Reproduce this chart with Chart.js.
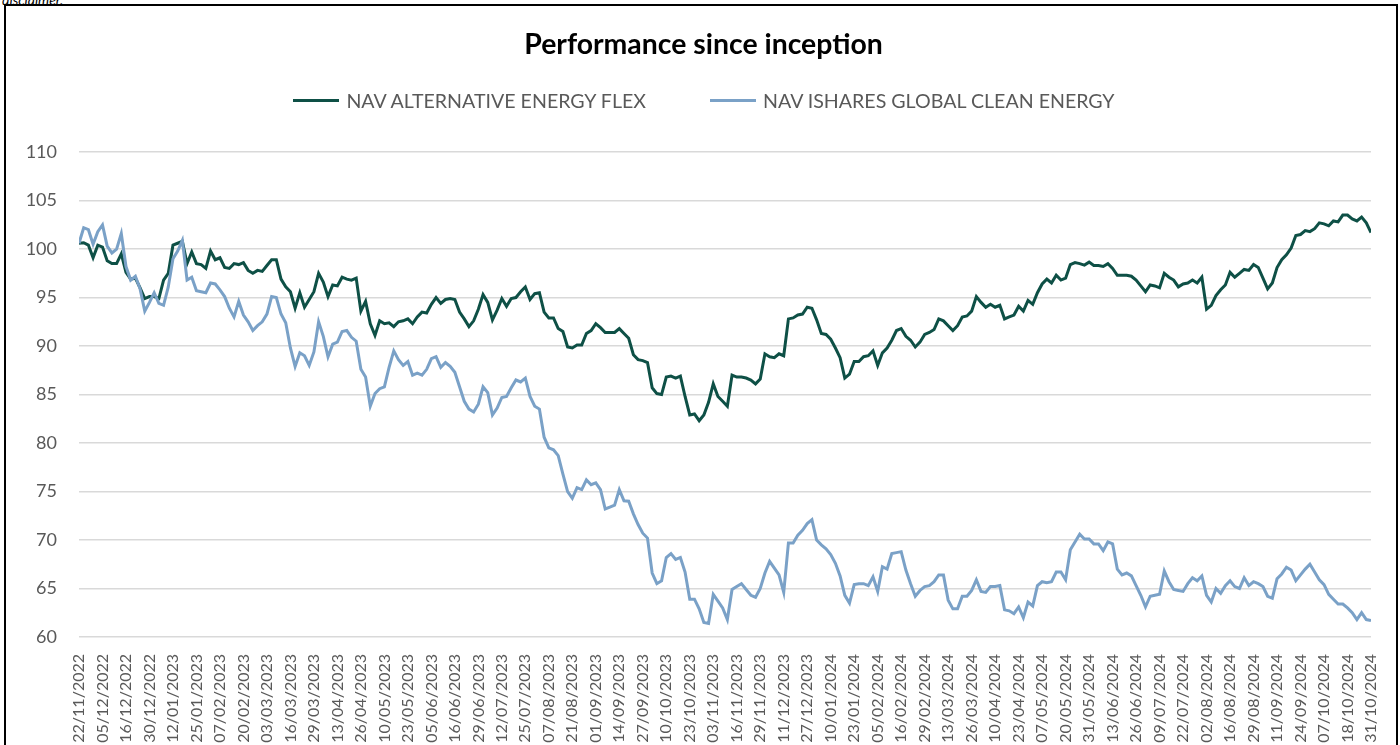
<!DOCTYPE html>
<html>
<head>
<meta charset="utf-8">
<title>Performance since inception</title>
<script src="https://cdn.jsdelivr.net/npm/chart.js@4.4.1/dist/chart.umd.min.js"></script>
<style>
  html, body { margin: 0; padding: 0; background: #fff; }
  body { width: 1400px; height: 745px; overflow: hidden; position: relative; font-family: Lato, sans-serif; }
  #note { position: absolute; left: 2px; top: -9px; font-style: italic; font-size: 14px; color: #000; }
  #frame { position: absolute; left: 4px; top: 4px; width: 1394px; height: 800px; border: 2px solid #000; box-sizing: border-box; pointer-events: none; }
  #chart { position: absolute; left: 0; top: 0; }
  #legend { position: absolute; left: 4px; top: 89px; width: 1400px; display: flex; justify-content: center; gap: 64px; font-size: 19.6px; color: #595959; }
  .item { display: flex; align-items: center; }
  .swatch { width: 46px; height: 3px; margin-right: 7px; }
</style>
</head>
<body>
<div id="note">disclaimer.</div>
<canvas id="chart" width="1400" height="745"></canvas>
<div id="legend"></div>
<div id="frame"></div>
<script>
'use strict';

// x tick labels, one every 10 trading days
const dateLabels = [
    '22/11/2022', '05/12/2022', '16/12/2022', '30/12/2022', '12/01/2023', '25/01/2023',
    '07/02/2023', '20/02/2023', '03/03/2023', '16/03/2023', '29/03/2023', '13/04/2023',
    '26/04/2023', '10/05/2023', '23/05/2023', '05/06/2023', '16/06/2023', '29/06/2023',
    '12/07/2023', '25/07/2023', '07/08/2023', '21/08/2023', '01/09/2023', '14/09/2023',
    '27/09/2023', '10/10/2023', '23/10/2023', '03/11/2023', '16/11/2023', '29/11/2023',
    '11/12/2023', '27/12/2023', '10/01/2024', '23/01/2024', '05/02/2024', '16/02/2024',
    '29/02/2024', '13/03/2024', '26/03/2024', '10/04/2024', '23/04/2024', '07/05/2024',
    '20/05/2024', '31/05/2024', '13/06/2024', '26/06/2024', '09/07/2024', '22/07/2024',
    '02/08/2024', '16/08/2024', '29/08/2024', '11/09/2024', '24/09/2024', '07/10/2024',
    '18/10/2024', '31/10/2024'
];
const daysPerLabel = 10;
const daysPerReading = 2;   // one value read every 2 trading days

const seriesNames = ['NAV ALTERNATIVE ENERGY FLEX', 'NAV ISHARES GLOBAL CLEAN ENERGY'];
const seriesColors = ['#0e5046', '#7aa1c7'];

const navFlex = [
    100.6, 100.65, 100.4, 99.1, 100.4, 100.2, 98.8, 98.5, 98.5, 99.5, 97.6, 96.9, 97.0, 96.0, 94.9, 95.1, 95.1, 94.9,
    96.8, 97.5, 100.4, 100.6, 100.8, 98.5, 99.7, 98.5, 98.4, 98.0, 99.8, 98.9, 99.1, 98.1, 98.0, 98.5, 98.4, 98.6,
    97.8, 97.5, 97.8, 97.7, 98.3, 98.9, 98.9, 96.9, 96.1, 95.6, 93.9, 95.5, 94.0, 94.8, 95.6, 97.5, 96.6, 95.1,
    96.3, 96.2, 97.1, 96.9, 96.8, 97.0, 93.6, 94.6, 92.3, 91.1, 92.6, 92.3, 92.4, 92.0, 92.5, 92.6,
    92.8, 92.3, 93.0, 93.5, 93.4, 94.3, 95.0, 94.4, 94.8, 94.9, 94.8, 93.5, 92.8, 92.0, 92.6, 93.8, 95.3, 94.5,
    92.7, 93.7, 94.9, 94.1, 94.9, 95.0, 95.6, 96.1, 94.8, 95.4, 95.5, 93.5, 92.9, 92.9, 91.8, 91.5, 89.9, 89.8,
    90.1, 90.1, 91.3, 91.6, 92.3, 91.9, 91.4, 91.4, 91.4, 91.8, 91.3, 90.8, 89.1, 88.6, 88.5, 88.3, 85.7, 85.1,
    85.0, 86.8, 86.9, 86.7, 86.9, 84.8, 82.9, 83.0, 82.3, 82.9, 84.2, 86.1, 84.8, 84.3, 83.8, 87.0, 86.8,
    86.8, 86.7, 86.5, 86.1, 86.6, 89.2, 88.9, 88.8, 89.2, 89.0, 92.8, 92.9, 93.2, 93.3, 94.0, 93.9, 92.7, 91.3,
    91.2, 90.7, 89.8, 88.8, 86.7, 87.1, 88.4, 88.4, 88.9, 89.0, 89.5, 88.0, 89.3, 89.8, 90.6, 91.6, 91.8,
    91.0, 90.6, 89.9, 90.4, 91.2, 91.4, 91.7, 92.8, 92.6, 92.1, 91.6, 92.1, 93.0, 93.1, 93.6, 95.1, 94.5, 94.0,
    94.3, 94.0, 94.2, 92.8, 93.0, 93.2, 94.1, 93.6, 94.7, 94.3, 95.5, 96.4, 96.9, 96.5, 97.3, 96.8, 97.0,
    98.4, 98.6, 98.5, 98.35, 98.65, 98.3, 98.3, 98.2, 98.5, 98.0, 97.3, 97.3, 97.3, 97.2, 96.8, 96.2, 95.6, 96.3,
    96.2, 96.0, 97.5, 97.1, 96.8, 96.1, 96.4, 96.5, 96.8, 96.5, 97.1, 93.8, 94.2, 95.2, 95.8, 96.3, 97.6,
    97.1, 97.5, 97.9, 97.8, 98.4, 98.1, 97.0, 95.9, 96.5, 98.1, 98.9, 99.4, 100.1, 101.4, 101.5, 101.9, 101.8, 102.1,
    102.7, 102.6, 102.4, 102.9, 102.8, 103.5, 103.5, 103.1, 102.9, 103.3, 102.7, 101.7
];

const navCleanEnergy = [
    100.6, 102.2, 102.0, 100.5, 101.8, 102.5, 100.3, 99.6, 100.0, 101.6, 98.2, 96.8, 97.2, 95.9, 93.6, 94.5, 95.5, 94.4,
    94.2, 96.1, 99.0, 99.8, 100.9, 96.8, 97.1, 95.7, 95.6, 95.5, 96.5, 96.4, 95.8, 95.1, 93.9, 93.0, 94.6, 93.2,
    92.5, 91.6, 92.1, 92.5, 93.3, 95.1, 95.0, 93.3, 92.4, 89.8, 87.9, 89.3, 89.0, 88.0, 89.4, 92.5, 91.0, 88.9,
    90.2, 90.4, 91.5, 91.6, 90.9, 90.5, 87.6, 86.8, 83.8, 85.1, 85.6, 85.8, 87.8, 89.5, 88.6, 88.0,
    88.4, 87.0, 87.2, 87.0, 87.6, 88.7, 88.9, 87.8, 88.3, 87.9, 87.3, 85.8, 84.3, 83.5, 83.2, 84.0, 85.8, 85.2,
    82.9, 83.6, 84.7, 84.8, 85.7, 86.5, 86.3, 86.7, 84.8, 83.8, 83.5, 80.6, 79.5, 79.3, 78.7, 76.8, 75.0, 74.3,
    75.4, 75.2, 76.2, 75.7, 75.9, 75.2, 73.2, 73.4, 73.6, 75.2, 74.05, 74.0, 72.7, 71.6, 70.7, 70.2, 66.6, 65.5,
    65.8, 68.2, 68.6, 68.0, 68.2, 66.7, 63.9, 63.9, 62.9, 61.5, 61.4, 64.4, 63.7, 63.0, 61.8, 64.9, 65.2,
    65.5, 64.9, 64.3, 64.1, 65.0, 66.6, 67.8, 67.1, 66.4, 64.6, 69.7, 69.7, 70.5, 71.0, 71.7, 72.1, 70.0, 69.5,
    69.1, 68.5, 67.6, 66.3, 64.3, 63.5, 65.4, 65.5, 65.5, 65.3, 66.2, 64.7, 67.25, 67.0, 68.6, 68.7, 68.8,
    66.9, 65.5, 64.2, 64.8, 65.2, 65.3, 65.7, 66.4, 66.4, 63.8, 62.9, 62.9, 64.2, 64.2, 64.8, 65.9, 64.7, 64.6,
    65.2, 65.2, 65.3, 62.8, 62.7, 62.4, 63.1, 62.0, 63.6, 63.2, 65.3, 65.7, 65.6, 65.7, 66.7, 66.7, 65.9,
    69.0, 69.8, 70.6, 70.1, 70.1, 69.6, 69.6, 68.9, 69.8, 69.6, 67.0, 66.4, 66.6, 66.3, 65.3, 64.3, 63.1, 64.2,
    64.3, 64.4, 66.8, 65.7, 64.9, 64.8, 64.7, 65.5, 66.1, 65.8, 66.3, 64.3, 63.6, 65.0, 64.5, 65.3, 65.8,
    65.2, 65.0, 66.1, 65.3, 65.7, 65.5, 65.2, 64.2, 64.0, 66.0, 66.5, 67.2, 66.9, 65.8, 66.4, 67.0, 67.5, 66.7,
    65.9, 65.4, 64.4, 63.9, 63.4, 63.4, 63.0, 62.5, 61.8, 62.5, 61.8, 61.7
];

const yMin = 60;
const yMax = 110;
const yStep = 5;

function toPoints(values) {
    return values.map((v, i) => ({ x: i * daysPerReading, y: v }));
}

Chart.defaults.font.family = 'Lato, sans-serif';
Chart.defaults.color = '#595959';

const lastDay = (dateLabels.length - 1) * daysPerLabel;

const data = {
    datasets: [
        {
            label: seriesNames[0],
            data: toPoints(navFlex),
            borderColor: seriesColors[0],
            backgroundColor: seriesColors[0],
            borderWidth: 3,
            pointRadius: 0,
            tension: 0,
            order: 1,
        },
        {
            label: seriesNames[1],
            data: toPoints(navCleanEnergy),
            borderColor: seriesColors[1],
            backgroundColor: seriesColors[1],
            borderWidth: 3,
            pointRadius: 0,
            tension: 0,
            order: 0,
        },
    ]
};

const config = {
    type: 'line',
    data: data,
    options: {
        responsive: false,
        animation: false,
        events: [],
        layout: { padding: { left: 7, right: 0, top: 0, bottom: 0 } },
        plugins: {
            legend: { display: false },
            tooltip: { enabled: false },
            title: {
                display: true,
                text: 'Performance since inception',
                color: '#000',
                font: { size: 28.4, weight: 'bold' },
                padding: { top: 28, bottom: 90 },
            },
        },
        scales: {
            x: {
                type: 'linear',
                min: 0,
                max: lastDay,
                grid: { display: false },
                border: { display: false },
                ticks: {
                    stepSize: daysPerLabel,
                    autoSkip: false,
                    minRotation: 90,
                    maxRotation: 90,
                    padding: 9,
                    font: { size: 16 },
                    callback: (value) => dateLabels[Math.round(value / daysPerLabel)],
                },
                afterFit: (scale) => { scale.height = 108; },
            },
            y: {
                min: yMin,
                max: yMax,
                grid: { color: '#d9d9d9', lineWidth: 1.5, drawTicks: false },
                border: { display: false },
                ticks: {
                    stepSize: yStep,
                    padding: 22,
                    font: { size: 18 },
                },
                afterFit: (scale) => { scale.width = 72; },
            },
            // empty right-hand margin so the plot stops short of the frame
            yRight: {
                position: 'right',
                grid: { display: false },
                border: { display: false },
                ticks: { display: false },
                afterFit: (scale) => { scale.width = 29; },
            },
        },
    },
};

const chart = new Chart(document.getElementById('chart'), config);

// legend drawn as html, built from the chart datasets
const legend = document.getElementById('legend');
chart.data.datasets.forEach((ds) => {
    const item = document.createElement('div');
    item.className = 'item';
    const swatch = document.createElement('span');
    swatch.className = 'swatch';
    swatch.style.background = ds.borderColor;
    const text = document.createElement('span');
    text.textContent = ds.label;
    item.appendChild(swatch);
    item.appendChild(text);
    legend.appendChild(item);
});
</script>
</body>
</html>
